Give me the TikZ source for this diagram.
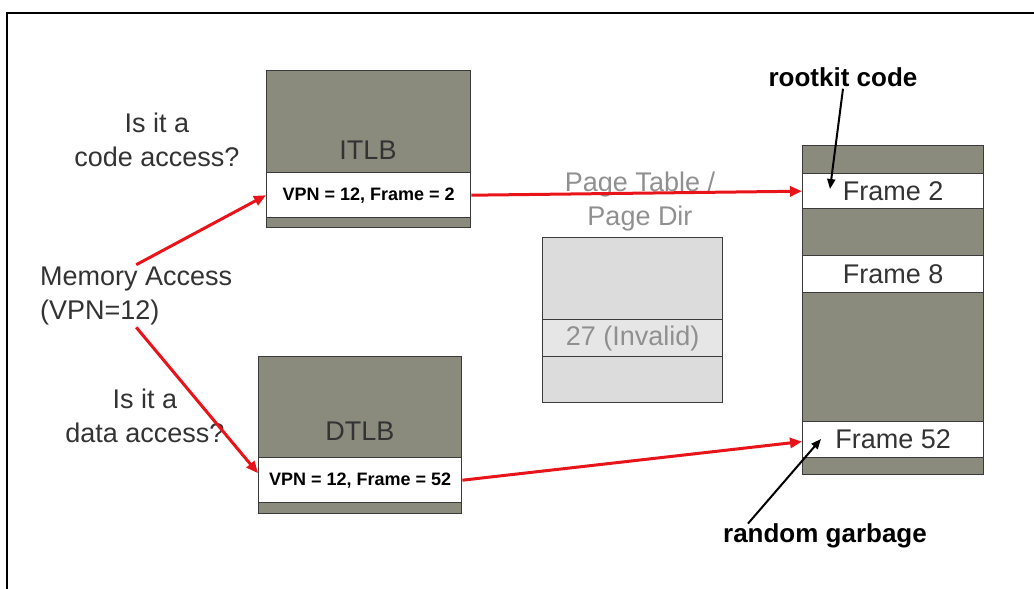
\documentclass[tikz,border=0pt]{standalone}
\usepackage{fontspec}
\setmainfont{Liberation Sans}
\usetikzlibrary{arrows.meta,calc}
\definecolor{boxgray}{HTML}{8A8B7D}
\definecolor{ptgray}{HTML}{DCDCDC}
\definecolor{ptrow}{HTML}{E6E6E6}
\definecolor{outline}{HTML}{3A3A3A}
\definecolor{txt}{HTML}{333333}
\definecolor{lighttxt}{HTML}{909090}
\definecolor{arrowred}{HTML}{E8141A}
\begin{document}
\begin{tikzpicture}[x=1pt,y=-1pt,
  cell/.style={draw=outline,line width=1.4pt,inner sep=0pt,anchor=north west},
  darkcell/.style={cell,fill=boxgray},
  whitecell/.style={cell,fill=white,text=txt,font=\fontsize{27}{32}\selectfont},
  ptcell/.style={cell,fill=ptgray},
  vpncell/.style={cell,fill=white,text=black,font=\bfseries\fontsize{18}{20}\selectfont},
  lbl/.style={text=txt,font=\fontsize{27}{34}\selectfont,align=center,inner sep=2pt},
  boldlbl/.style={text=black,font=\bfseries\fontsize{26}{30}\selectfont,inner sep=2pt},
  redarrow/.style={draw=arrowred,line width=3pt,-{Triangle[length=12pt,width=10pt]}},
  blackarrow/.style={draw=black,line width=2pt,-{Triangle[length=10pt,width=8pt]}}]
\useasboundingbox (0,0) rectangle (1034,589);
% outer frame
\draw[line width=2pt,black] (7,592) -- (7,13) -- (1036,13);

% ITLB
\node[darkcell,minimum width=204pt,minimum height=102pt] (itlbtop) at (266,70) {};
\node[vpncell,minimum width=204pt,minimum height=45pt] (itlbrow) at (266,172) {VPN = 12, Frame = 2};
\node[darkcell,minimum width=204pt,minimum height=10pt] (itlbband) at (266,217) {};
\node[lbl] (itlblabel) at (368,150) {ITLB};

% DTLB
\node[darkcell,minimum width=203pt,minimum height=101pt] (dtlbtop) at (258,356) {};
\node[vpncell,minimum width=203pt,minimum height=45pt] (dtlbrow) at (258,457) {VPN = 12, Frame = 52};
\node[darkcell,minimum width=203pt,minimum height=11pt] (dtlbband) at (258,502) {};
\node[lbl] (dtlblabel) at (360,431) {DTLB};

% memory column
\node[darkcell,minimum width=181pt,minimum height=28pt] (g0) at (802,145) {};
\node[whitecell,minimum width=181pt,minimum height=35pt] (f2) at (802,173) {Frame 2};
\node[darkcell,minimum width=181pt,minimum height=47pt] (g1) at (802,208) {};
\node[whitecell,minimum width=181pt,minimum height=37pt] (f8) at (802,255) {Frame 8};
\node[darkcell,minimum width=181pt,minimum height=129pt] (g2) at (802,292) {};
\node[whitecell,minimum width=181pt,minimum height=36pt] (f52) at (802,421) {Frame 52};
\node[darkcell,minimum width=181pt,minimum height=17pt] (g3) at (802,457) {};

% page table
\node[ptcell,minimum width=180pt,minimum height=82pt] (pt0) at (542,237) {};
\node[ptcell,fill=ptrow,text=lighttxt,font=\fontsize{27}{32}\selectfont,minimum width=180pt,minimum height=37pt] (pt1) at (542,319) {27 (Invalid)};
\node[ptcell,minimum width=180pt,minimum height=46pt] (pt2) at (542,356) {};
\node[lbl,text=lighttxt] (ptlabel) at (640,202) {Page Table /\\Page Dir};

% labels
\node[lbl] (qcode) at (157,140) {Is it a\\code access?};
\node[lbl] (qdata) at (145,416) {Is it a\\data access?};
\node[lbl,align=left,anchor=west] (ma) at (38,296) {Memory Access\\(VPN=12)};
\node[boldlbl] (rk) at (843,77) {rootkit code};
\node[boldlbl] (rg) at (825,536) {random garbage};
\coordinate (rkTip) at (830,189);
\coordinate (rgTip) at (821,439);

% arrows
\draw[redarrow] (ma.north) -- (itlbrow.west);
\draw[redarrow] (ma.south) -- ($(dtlbrow.north west)!0.35!(dtlbrow.south west)$);
\draw[redarrow] (itlbrow.east) -- ($(f2.north west)!0.5!(f2.south west)$);
\draw[redarrow] (dtlbrow.east) -- ($(f52.north west)!0.55!(f52.south west)$);
\draw[blackarrow] (rk.south) -- (rkTip);
\draw[blackarrow] ([xshift=27pt,yshift=-2pt]rg.north west) -- (rgTip);
\end{tikzpicture}
\end{document}
